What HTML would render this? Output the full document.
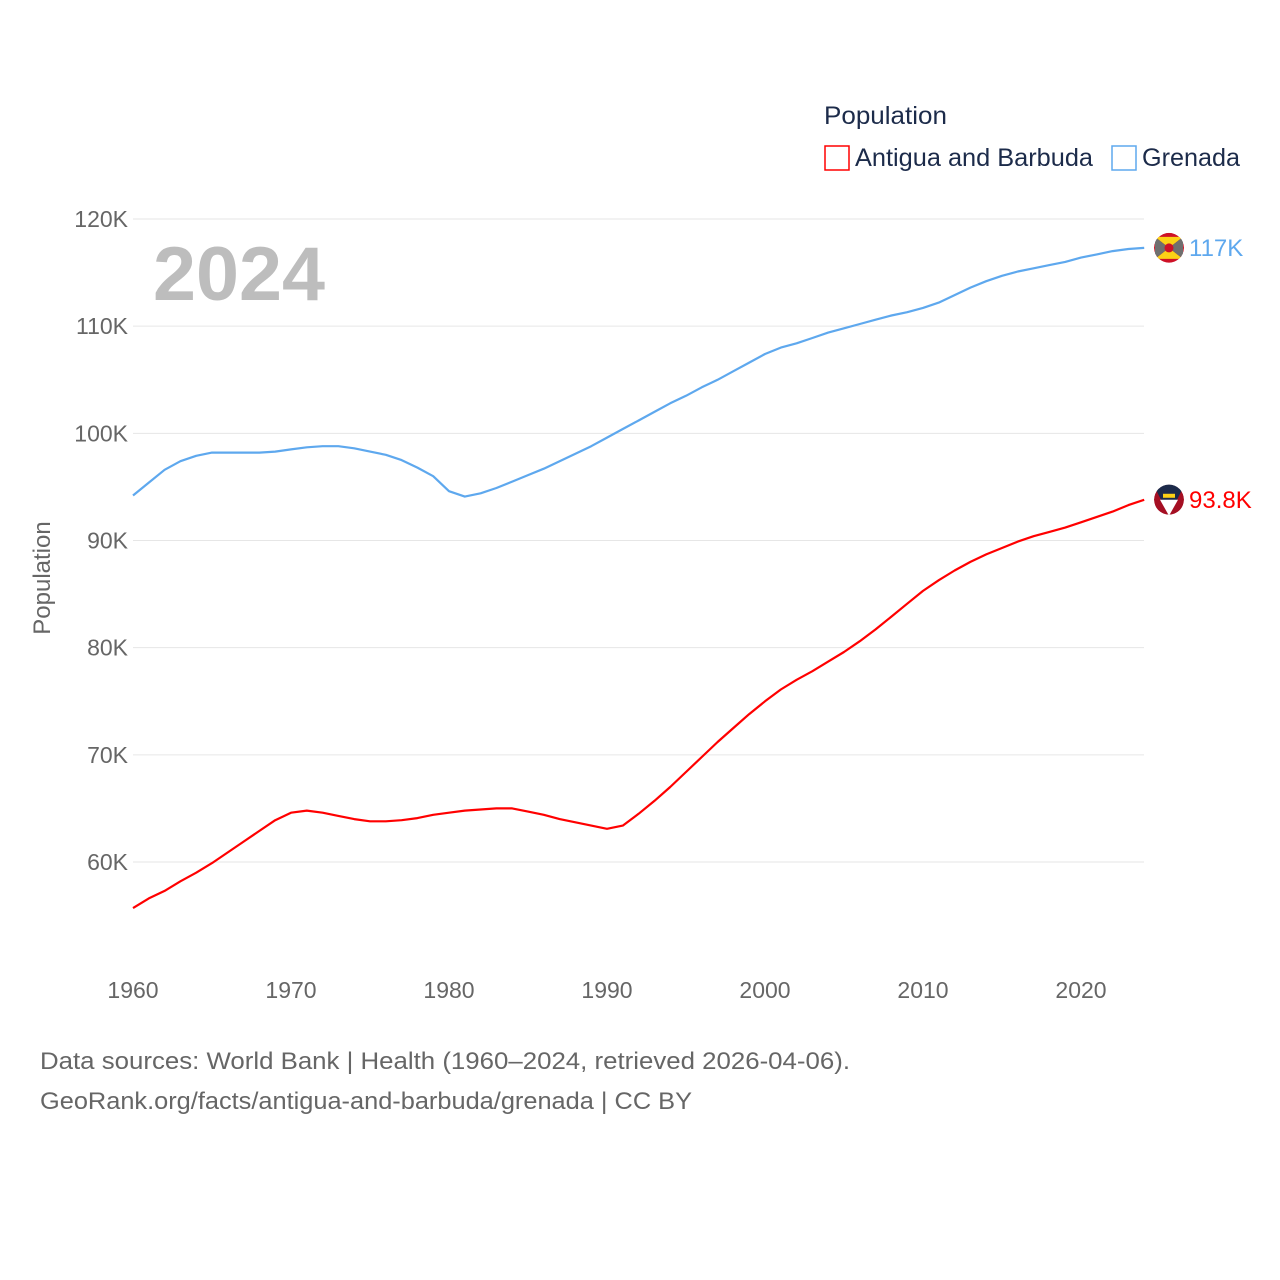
<!DOCTYPE html>
<html><head><meta charset="utf-8"><style>
body{margin:0;background:#fff;}
svg{display:block;font-family:"Liberation Sans",sans-serif;}
</style></head><body>
<svg id="chart" width="1280" height="1280" viewBox="0 0 1280 1280">
<defs>
<clipPath id="clipA"><circle cx="1169" cy="499.6" r="15"/></clipPath>
<clipPath id="clipG"><circle cx="1169" cy="247.7" r="15"/></clipPath>
</defs>
<g id="grid"></g>
<g id="yticks"></g>
<g id="xticks"></g>
<text x="153" y="300" font-size="76" font-weight="bold" fill="#bdbdbd" textLength="172" lengthAdjust="spacingAndGlyphs">2024</text>
<text transform="translate(50,578) rotate(-90)" text-anchor="middle" font-size="24" fill="#666">Population</text>
<g id="series"></g>
<g>
<text x="824" y="124" font-size="25" fill="#1c2b4a" textLength="123" lengthAdjust="spacingAndGlyphs">Population</text>
<g>
<rect x="825" y="146" width="24" height="24" fill="none" stroke="#ff0000" stroke-width="1.5"/>
<text x="855" y="166" font-size="25" fill="#1c2b4a" textLength="238" lengthAdjust="spacingAndGlyphs">Antigua and Barbuda</text></g>
<g>
<rect x="1112" y="146" width="24" height="24" fill="none" stroke="#5ea8ee" stroke-width="1.5"/>
<text x="1142" y="166" font-size="25" fill="#1c2b4a" textLength="98" lengthAdjust="spacingAndGlyphs">Grenada</text></g>
</g>
<g id="ends"></g>
<text x="40" y="1069" font-size="24" fill="#666" textLength="810" lengthAdjust="spacingAndGlyphs">Data sources: World Bank | Health (1960–2024, retrieved 2026-04-06).</text>
<text x="40" y="1109" font-size="24" fill="#666" textLength="652" lengthAdjust="spacingAndGlyphs">GeoRank.org/facts/antigua-and-barbuda/grenada | CC BY</text>
</svg>
<script>
const years=[];for(let y=1960;y<=2024;y++)years.push(y);
const antigua=[55.7,56.6,57.3,58.2,59.0,59.9,60.9,61.9,62.9,63.9,64.6,64.8,64.6,64.3,64.0,63.8,63.8,63.9,64.1,64.4,64.6,64.8,64.9,65.0,65.0,64.7,64.4,64.0,63.7,63.4,63.1,63.4,64.5,65.7,67.0,68.4,69.8,71.2,72.5,73.8,75.0,76.1,77.0,77.8,78.7,79.6,80.6,81.7,82.9,84.1,85.3,86.3,87.2,88.0,88.7,89.3,89.9,90.4,90.8,91.2,91.7,92.2,92.7,93.3,93.8];
const grenada=[94.2,95.4,96.6,97.4,97.9,98.2,98.2,98.2,98.2,98.3,98.5,98.7,98.8,98.8,98.6,98.3,98.0,97.5,96.8,96.0,94.6,94.1,94.4,94.9,95.5,96.1,96.7,97.4,98.1,98.8,99.6,100.4,101.2,102.0,102.8,103.5,104.3,105.0,105.8,106.6,107.4,108.0,108.4,108.9,109.4,109.8,110.2,110.6,111.0,111.3,111.7,112.2,112.9,113.6,114.2,114.7,115.1,115.4,115.7,116.0,116.4,116.7,117.0,117.2,117.3];
const yTicks=[60,70,80,90,100,110,120];
const xTicks=[1960,1970,1980,1990,2000,2010,2020];
const endLabels=["93.8K","117K"];
const NS="http://www.w3.org/2000/svg";
const X=y=>133+(y-1960)*(1081-133)/60;
const Y=v=>862-(v-60)*(862-219)/60;
function mk(t,a,p){const e=document.createElementNS(NS,t);for(const k in a)e.setAttribute(k,a[k]);p.appendChild(e);return e;}
const grid=document.getElementById('grid'),yt=document.getElementById('yticks'),xt=document.getElementById('xticks');
yTicks.forEach(v=>{
 const l=mk('line',{x1:133,x2:1144,y1:Y(v),y2:Y(v),stroke:'#e6e6e6','stroke-width':1},grid);
 
 
 const t=mk('text',{x:128,y:Y(v)+8,'text-anchor':'end','font-size':23,fill:'#666'},yt);
 
 
 t.textContent=v+'K';
});
xTicks.forEach(v=>{
 const t=mk('text',{x:X(v),y:998,'text-anchor':'middle','font-size':23,fill:'#666'},xt);
 
 
 t.textContent=v;
});
const ser=document.getElementById('series');
[[antigua,'#ff0000','antigua-line'],[grenada,'#5ea8ee','grenada-line']].forEach(([d,c,n])=>{
 const p=mk('path',{d:d.map((v,i)=>(i?'L':'M')+X(years[i]).toFixed(1)+','+Y(v).toFixed(1)).join(''),fill:'none',stroke:c,'stroke-width':2.2,'stroke-linejoin':'round'},ser);
 
 
});
const ends=document.getElementById('ends');
const last=years.length-1;
[[antigua[last],'#ff0000',endLabels[0],'antigua'],[grenada[last],'#5ea8ee',endLabels[1],'grenada']].forEach(([v,c,lab,n])=>{
 const cy=Y(v);
 const f=mk('g',{'clip-path':n==='grenada'?'url(#clipG)':'url(#clipA)'},ends);
 
 
 if(n==='grenada'){
  mk('circle',{cx:1169,cy:cy,r:15,fill:'#ce1126'},f);
  mk('polygon',{points:`1155,${cy-11} 1183,${cy-11} 1169,${cy}`,fill:'#fcd116'},f);
  mk('polygon',{points:`1155,${cy+11} 1183,${cy+11} 1169,${cy}`,fill:'#fcd116'},f);
  mk('polygon',{points:`1155,${cy-11} 1155,${cy+11} 1169,${cy}`,fill:'#6f6f6f'},f);
  mk('polygon',{points:`1183,${cy-11} 1183,${cy+11} 1169,${cy}`,fill:'#6f6f6f'},f);
  mk('circle',{cx:1169,cy:cy,r:4.5,fill:'#ce1126'},f);
 } else {
  mk('circle',{cx:1169,cy:cy,r:15,fill:'#a50f23'},f);
  mk('polygon',{points:`1153,${cy-16} 1185,${cy-16} 1169,${cy+16}`,fill:'#1c2a4a'},f);
  mk('polygon',{points:`1160,${cy} 1178,${cy} 1169,${cy+16}`,fill:'#fff'},f);
  mk('rect',{x:1163,y:cy-6,width:12,height:4,fill:'#fcd116'},f);
 }
 const t=mk('text',{x:1189,y:cy+8,'font-size':24,fill:c},ends);
 
 
 t.textContent=lab;
});
</script>
</body></html>
